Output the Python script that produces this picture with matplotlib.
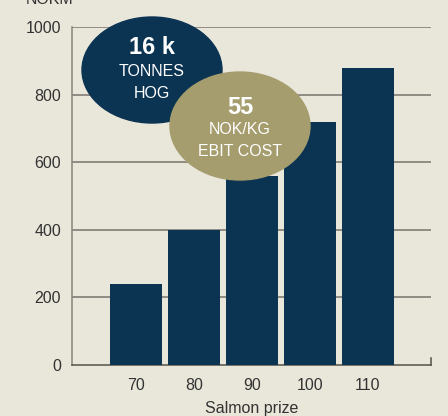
import matplotlib
matplotlib.use('Agg')
import matplotlib.pyplot as plt
from matplotlib.patches import Ellipse

# data
prices = ['70', '80', '90', '100', '110']
ebit = [240, 400, 560, 720, 880]
yticks = [0, 200, 400, 600, 800, 1000]

bg = '#e9e6da'
navy = '#0b3352'
khaki = '#a59d6d'
grid = '#8a857c'
txt = '#333333'

plt.rcParams['font.family'] = ['Liberation Sans', 'DejaVu Sans']

fig = plt.figure(figsize=(4.48, 4.16), dpi=100, facecolor=bg)
ax = fig.add_axes([72 / 448, 51 / 416, 359 / 448, 338 / 416], facecolor=bg)

x = list(range(len(prices)))
ax.bar(x, ebit, width=0.9, color=navy, zorder=3)

ax.set_xlim(-1.1, 5.09)
ax.set_ylim(0, 1000)
ax.set_xticks(x)
ax.set_xticklabels(prices)
ax.set_yticks(yticks)
ax.tick_params(axis='both', length=0, labelsize=11.5, labelcolor=txt)
ax.tick_params(axis='x', pad=9)
ax.tick_params(axis='y', pad=8)

# horizontal grid lines
for v in yticks[1:]:
    ax.axhline(v, color=grid, lw=1.3, zorder=1)

for s in ['top', 'right']:
    ax.spines[s].set_visible(False)
ax.spines['left'].set_color(grid)
ax.spines['left'].set_linewidth(1.1)
ax.spines['bottom'].set_color('#555049')
ax.spines['bottom'].set_linewidth(1.1)
# small end tick at the right of the baseline
ax.plot([1, 1], [0, 0.02], transform=ax.transAxes, color='#555049', lw=1.1, clip_on=False)

ax.set_xlabel('Salmon prize', fontsize=11.5, color=txt, labelpad=6)
fig.text(50 / 448, 1.0, 'NOKM', ha='center', va='center', fontsize=11.5, color=txt)

# bubbles
tr = fig.dpi_scale_trans
e1 = Ellipse((1.52, (416 - 70) / 100), 1.40, 1.06, transform=tr, color=navy, zorder=5)
e2 = Ellipse((2.40, (416 - 126) / 100), 1.40, 1.08, transform=tr, color=khaki, zorder=6)
fig.patches.extend([e1, e2])

fig.text(152 / 448, 1 - 47 / 416, '16 k', ha='center', va='center', fontsize=17,
         fontweight='bold', color='white', zorder=7)
fig.text(152 / 448, 1 - 72 / 416, 'TONNES', ha='center', va='center', fontsize=11.5,
         color='white', zorder=7)
fig.text(152 / 448, 1 - 93 / 416, 'HOG', ha='center', va='center', fontsize=11.5,
         color='white', zorder=7)
fig.text(240 / 448, 1 - 107 / 416, '55', ha='center', va='center', fontsize=17,
         fontweight='bold', color='white', zorder=8)
fig.text(240 / 448, 1 - 130 / 416, 'NOK/KG', ha='center', va='center', fontsize=11.5,
         color='white', zorder=8)
fig.text(240 / 448, 1 - 152 / 416, 'EBIT COST', ha='center', va='center', fontsize=11.5,
         color='white', zorder=8)

fig.savefig('out.png', dpi=100, facecolor=bg)
